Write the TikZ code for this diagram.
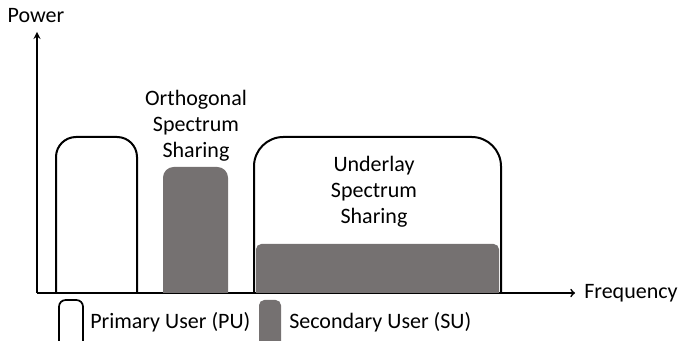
\documentclass[tikz,border=0pt]{standalone}
\usepackage{fontspec}
\setmainfont{Carlito}
\definecolor{sugray}{RGB}{117,113,113}
\tikzset{
  puband/.style={line width=1.5pt},
  suband/.style={fill=sugray, draw=none},
  lbl/.style={font=\fontsize{16.5}{19.5}\selectfont, align=center, inner sep=0pt},
}

\begin{document}
\begin{tikzpicture}[x=0.75pt, y=-0.75pt]
    \useasboundingbox (0,0) rectangle (680,341);
    % ---------------------------------------------
    % axes
    \coordinate (o) at (37,293);
    \coordinate (ytip) at (37,32);
    \coordinate (xtip) at (575,293);
    \draw[line width=1.3pt, -stealth] (o) -- (ytip);
    \draw[line width=1.3pt, ->] (o) -- (xtip);
    \node[lbl] (power) at (36,16) {Power};
    \node[lbl, anchor=west] (freq) at (584,293) {Frequency};

    % draw primary user band
    \draw[puband] (56,293) [rounded corners=15pt] -- (56,137) -- (137,137) [sharp corners] -- (137,293);

    % orthogonal secondary user band
    \fill[suband] (163,293) [rounded corners=8pt] -- (163,167) -- (228,167) [sharp corners] -- (228,293) -- cycle;
    \node[lbl] (ortho) at (196,126) {Orthogonal\\Spectrum\\Sharing};

    % underlay: secondary user below primary user
    \fill[suband] (256,293) [rounded corners=4pt] -- (256,244) -- (499,244) [sharp corners] -- (499,293) -- cycle;
    \draw[puband] (254,293) [rounded corners=22pt] -- (254,137) -- (501,137) [sharp corners] -- (501,293);
    \node[lbl] (under) at (374,192) {Underlay\\Spectrum\\Sharing};

    % legend
    \draw[puband, line width=1.3pt] (59,345) [rounded corners=5pt] -- (59,300) -- (83,300) [sharp corners] -- (83,345);
    \node[lbl, anchor=west] (pulbl) at (90,322) {Primary User (PU)};
    \fill[suband] (259,345) [rounded corners=4pt] -- (259,300) -- (281,300) [sharp corners] -- (281,345) -- cycle;
    \node[lbl, anchor=west] (sulbl) at (289,322) {Secondary User (SU)};

  \end{tikzpicture}
\end{document}
